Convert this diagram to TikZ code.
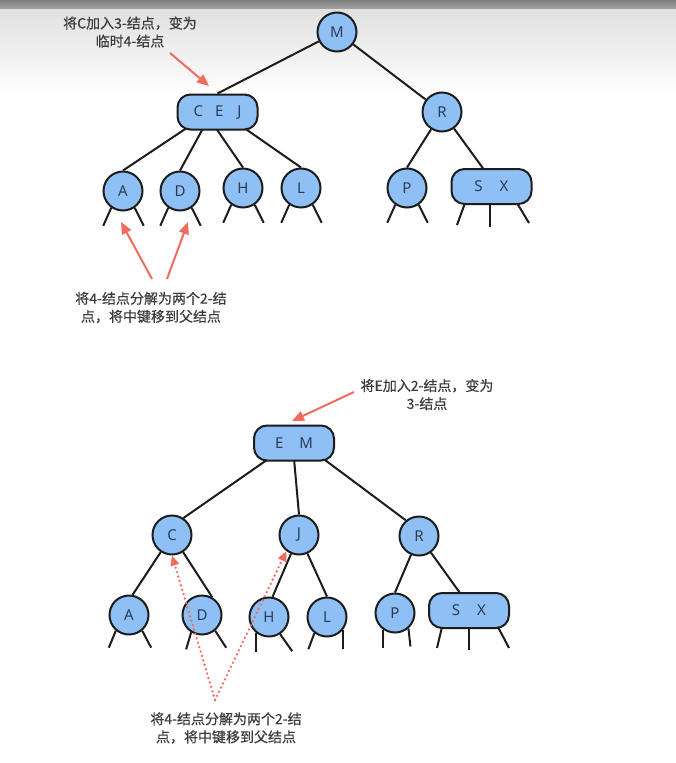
\documentclass[tikz,border=0pt]{standalone}
\usepackage{fontspec}
\setmainfont{Noto Sans}
\newfontfamily\cjk[FakeBold=0.5]{Noto Sans CJK SC}
\usetikzlibrary{arrows.meta,calc}
\definecolor{nodefill}{RGB}{142,192,246}
\definecolor{linec}{RGB}{28,28,28}
\definecolor{redc}{RGB}{240,108,92}
\definecolor{txtc}{RGB}{60,60,60}
\definecolor{letterc}{RGB}{45,60,85}
\definecolor{topgray}{RGB}{125,125,125}
\definecolor{topgrayb}{RGB}{165,165,165}
\definecolor{fadegray}{RGB}{224,224,224}
\pgfdeclarelayer{bgpaint}
\pgfdeclarelayer{edgelayer}
\pgfsetlayers{bgpaint,edgelayer,main}
\begin{document}
\begin{tikzpicture}[x=1pt,y=-1pt,
  keynode/.style={circle,draw=linec,line width=2pt,fill=nodefill,minimum size=39pt,inner sep=0pt,text=letterc,font=\fontsize{15}{15}\selectfont},
  multinode/.style={rectangle,rounded corners=13pt,draw=linec,line width=2pt,fill=nodefill,minimum width=80pt,minimum height=35pt,inner sep=0pt,text=letterc,font=\fontsize{15}{15}\selectfont},
  link/.style={draw=linec,line width=2pt},
  note/.style={align=center,text=txtc,font=\cjk\fontsize{14}{18}\selectfont},
  redarrow/.style={draw=redc,line width=2pt,-{Triangle[length=12pt,width=10pt]}},
  dotarrow/.style={draw=redc,line width=2.6pt,line cap=round,dash pattern=on 0pt off 4.6pt,-{Triangle[length=10pt,width=8.5pt]}}
]
\useasboundingbox (0,0) rectangle (676,763);
\begin{pgfonlayer}{bgpaint}
\fill[white] (0,0) rectangle (676,763);
\shade[top color=topgray,bottom color=topgrayb] (0,0) rectangle (676,9);
\shade[top color=fadegray,bottom color=white] (0,9) rectangle (676,95);
\end{pgfonlayer}

% ---------- top tree ----------
\node[keynode] (M) at (337,32) {M};
\node[multinode] (CEJ) at (217.5,112) {C\hspace{12pt}E\hspace{14pt}J};
\node[keynode] (R) at (442,112) {R};
\node[keynode] (A) at (123,191) {A};
\node[keynode] (D) at (180,191) {D};
\node[keynode] (H) at (243,188) {H};
\node[keynode] (L) at (301,188) {L};
\node[keynode] (P) at (407,188) {P};
\node[multinode] (SX) at (491.5,186.5) {S\hspace{17pt}X};

% ---------- bottom tree ----------
\node[multinode] (EM) at (294,443) {E\hspace{16pt}M};
\node[keynode] (C2) at (172,535) {C};
\node[keynode] (J2) at (299,535) {J};
\node[keynode] (R2) at (419,536) {R};
\node[keynode] (A2) at (129,615) {A};
\node[keynode] (D2) at (202,615) {D};
\node[keynode] (H2) at (269,617) {H};
\node[keynode] (L2) at (327,617) {L};
\node[keynode] (P2) at (395,613) {P};
\node[multinode] (SX2) at (469,610.5) {S\hspace{17pt}X};

% ---------- notes ----------
\node[note] (n1) at (130,32) {将C加入3-结点，变为\\临时4-结点};
\node[note] (n2) at (151,307.5) {将4-结点分解为两个2-结\\点，将中键移到父结点};
\node[note] (n3) at (427,394.5) {将E加入2-结点，变为\\3-结点};
\node[note] (n4) at (226,728) {将4-结点分解为两个2-结\\点，将中键移到父结点};

\begin{pgfonlayer}{edgelayer}
% top tree links
\draw[link] (M) -- (CEJ.north);
\draw[link] (M) -- (R);
\draw[link] ($(CEJ.south)+(-30,-3)$) -- (A.north);
\draw[link] ($(CEJ.south)+(-14,-3)$) -- (D.north);
\draw[link] ($(CEJ.south)+(-2,-3)$) -- (H.north);
\draw[link] ($(CEJ.south)+(26,-3)$) -- (L.north);
\draw[link] (R) -- (P.north);
\draw[link] (R) -- ($(SX.north)+(-8,1)$);
% top stubs
\foreach \n in {A,D,H,L,P}{
  \draw[link] (\n.235) -- ++(-8,18);
  \draw[link] (\n.305) -- ++(9,18);
}
\draw[link] ($(SX.south)+(-26.5,-2)$) -- ++(-8,22);
\draw[link] ($(SX.south)+(-1.5,-2)$) -- ++(0,24);
\draw[link] ($(SX.south)+(25.5,-2)$) -- ++(12,20);

% bottom tree links
\draw[link] ($(EM.south)+(-25,-3)$) -- (C2.56);
\draw[link] ($(EM.south)+(0,-3)$) -- (J2.north);
\draw[link] ($(EM.south)+(29,-3)$) -- (R2.130);
\draw[link] (C2) -- (A2.80);
\draw[link] (C2) -- (D2.60);
\draw[link] (J2) -- (H2.80);
\draw[link] (J2) -- (L2.north);
\draw[link] (R2) -- (P2.north);
\draw[link] (R2) -- ($(SX2.north)+(-9,1)$);
% bottom stubs
\draw[link] (A2.230) -- ++(-7,17);
\draw[link] (A2.310) -- ++(9,17);
\draw[link] (D2.238) -- ++(-5,17);
\draw[link] (D2.310) -- ++(11,17);
\draw[link] (H2.231) -- ++(0,19);
\draw[link] (H2.303) -- ++(12,17);
\draw[link] (L2.232) -- ++(-6,16);
\draw[link] (L2.321) -- ++(0,19);
\draw[link] (P2.235) -- ++(0,18);
\draw[link] (P2.311) -- ++(2,18);
\draw[link] ($(SX2.south)+(-27,-2)$) -- ++(-5,21);
\draw[link] ($(SX2.south)+(0,-2)$) -- ++(0,23);
\draw[link] ($(SX2.south)+(29,-2)$) -- ++(11,21);
\end{pgfonlayer}

% ---------- red arrows ----------
\coordinate (a1tail) at (170,53);
\coordinate (a1head) at (209,86);
\draw[redarrow] (a1tail) -- (a1head);
\coordinate (a2tail) at (152,279);
\coordinate (a2head) at (121,222);
\draw[redarrow] (a2tail) -- (a2head);
\coordinate (a3tail) at (167,279);
\coordinate (a3head) at (188,222);
\draw[redarrow] (a3tail) -- (a3head);
\coordinate (a4tail) at (354,392);
\coordinate (a4head) at (292,421);
\draw[redarrow] (a4tail) -- (a4head);
\coordinate (apex) at (215,700);
\draw[dotarrow] (apex) -- (C2.south);
\draw[dotarrow] (apex) -- (J2.232);
\end{tikzpicture}
\end{document}
